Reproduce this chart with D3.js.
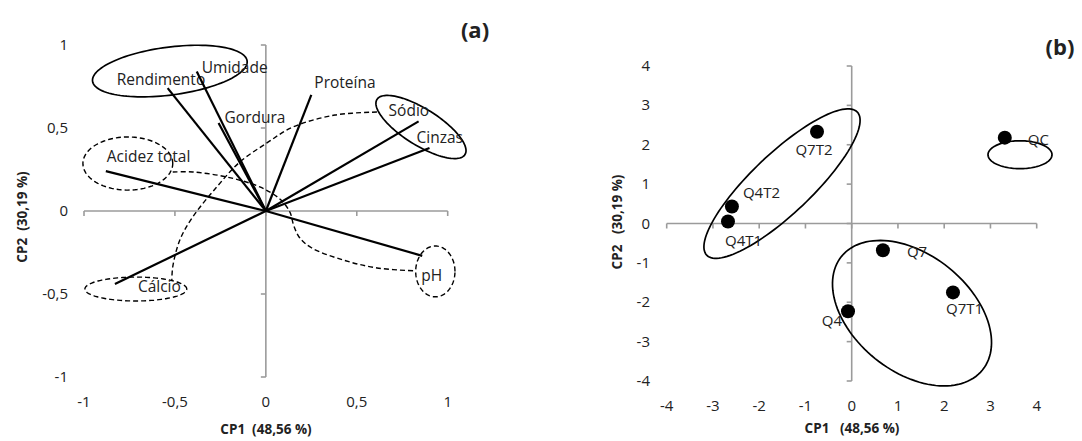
<!DOCTYPE html>
<html><head><meta charset="utf-8">
<script src="https://cdn.jsdelivr.net/npm/d3@7"></script>
<style>
html,body{margin:0;padding:0;background:#fff;}
svg text{font-family:"Open Sans","Noto Sans",sans-serif;fill:#222;}
</style></head>
<body><svg id="chart" width="1082" height="441"></svg>
<script>
// ---------- Panel (a): loadings ----------
const variables = ["Rendimento","Umidade","Gordura","Proteína","Sódio","Cinzas","Acidez total","Cálcio","pH"];
const loadCP1 = [-0.54,-0.38,-0.26,0.25,0.84,0.90,-0.88,-0.83,0.86];
const loadCP2 = [0.74,0.84,0.53,0.70,0.54,0.38,0.24,-0.44,-0.27];
const ticksA = [-1,-0.5,0,0.5,1];
// ellipses: [center, end of semi-axis 1, end of semi-axis 2] in data units
const groupsA_solid = [
  [[-0.528,0.843],[-0.103,0.904],[-0.511,0.700]],
  [[0.853,0.506],[1.095,0.340],[0.800,0.413]]
];
const groupsA_dashed = [
  [[-0.759,0.286],[-0.512,0.286],[-0.759,0.446]],
  [[-0.715,-0.470],[-0.435,-0.470],[-0.715,-0.398]],
  [[0.932,-0.364],[1.040,-0.364],[0.932,-0.211]]
];
const linkSodioCalcio = [[0.611,0.596],[0.380,0.578],[0.149,0.506],[0.006,0.410],[-0.143,0.295],[-0.270,0.145],[-0.402,-0.036],[-0.473,-0.175],[-0.512,-0.337],[-0.517,-0.422]];
const linkAcidezPH = [[-0.512,0.235],[-0.402,0.235],[-0.215,0.205],[-0.033,0.145],[0.077,0.072],[0.132,-0.006],[0.154,-0.090],[0.187,-0.163],[0.253,-0.223],[0.424,-0.295],[0.611,-0.343],[0.825,-0.361]];

// ---------- Panel (b): scores ----------
const samples = ["QC","Q7T2","Q4T2","Q4T1","Q7","Q7T1","Q4"];
const scoreCP1 = [3.31,-0.75,-2.59,-2.675,0.675,2.19,-0.08];
const scoreCP2 = [2.18,2.33,0.43,0.05,-0.68,-1.75,-2.23];
const ticksB = [-4,-3,-2,-1,0,1,2,3,4];
const groupsB = [
  [[1.304,-2.278],[2.827,-3.722],[0.506,-3.430]],
  [[-1.507,1.013],[0.121,2.830],[-1.059,0.463]],
  [[3.639,1.747],[4.331,1.747],[3.639,2.101]]
];

// ---------- layout / styles ----------
const labelOffA = {"Rendimento":[-51,-3],"Umidade":[5,1],"Gordura":[6,0],"Proteína":[3,-7],"Sódio":[-30,-5],"Cinzas":[-13,-5],"Acidez total":[1,-9],"Cálcio":[23,8],"pH":[-1,25]};
const labelOffB = {"QC":[23,7,"start"],"Q7T2":[-3,23,"middle"],"Q4T2":[11,-9,"start"],"Q4T1":[-3,24,"start"],"Q7":[24,7,"start"],"Q7T1":[-7,22,"start"],"Q4":[-6,15,"end"]};
const axisColor = "#9b9b9b";

const svg = d3.select("#chart");
const fmt = v => String(v).replace(".", ",");

function drawAxes(g, x, y, ticks, tickLabX, tickLabYBase) {
  const x0 = x(0), y0 = y(0);
  const t0 = ticks[0], t1 = ticks[ticks.length-1];
  g.append("line").attr("x1", x(t0)).attr("x2", x(t1)).attr("y1", y0).attr("y2", y0)
    .attr("stroke", axisColor).attr("stroke-width", 1.6);
  g.append("line").attr("x1", x0).attr("x2", x0).attr("y1", y(t1)).attr("y2", y(t0))
    .attr("stroke", axisColor).attr("stroke-width", 1.6);
  ticks.forEach(t => {
    g.append("line").attr("x1", x(t)).attr("x2", x(t)).attr("y1", y0).attr("y2", y0+5)
      .attr("stroke", axisColor).attr("stroke-width", 1.6);
    g.append("line").attr("x1", x0-5).attr("x2", x0).attr("y1", y(t)).attr("y2", y(t))
      .attr("stroke", axisColor).attr("stroke-width", 1.6);
    g.append("text").attr("x", x(t)).attr("y", tickLabYBase).attr("text-anchor","middle")
      .attr("font-size", 15).text(fmt(t));
    g.append("text").attr("x", tickLabX).attr("y", y(t)+5).attr("text-anchor","end")
      .attr("font-size", 15).text(fmt(t));
  });
}

function ellipse(g, e, x, y, dashed) {
  const [c,u,v] = e;
  const pts = d3.range(0, 121).map(i => {
    const t = i/120*2*Math.PI;
    return [c[0] + (u[0]-c[0])*Math.cos(t) + (v[0]-c[0])*Math.sin(t),
            c[1] + (u[1]-c[1])*Math.cos(t) + (v[1]-c[1])*Math.sin(t)];
  });
  g.append("path").attr("d", d3.line().x(d=>x(d[0])).y(d=>y(d[1])).curve(d3.curveLinearClosed)(pts))
    .attr("fill","none").attr("stroke","#000").attr("stroke-width", dashed?1.4:1.7)
    .attr("stroke-dasharray", dashed ? "5,3" : null);
}

// ----- panel a -----
const xA = d3.scaleLinear().domain([-1,1]).range([84,447.7]);
const yA = d3.scaleLinear().domain([-1,1]).range([377,45]);
const gA = svg.append("g");
drawAxes(gA, xA, yA, ticksA, 68, 407);

const curve = d3.line().x(d=>xA(d[0])).y(d=>yA(d[1])).curve(d3.curveCatmullRom);
[linkSodioCalcio, linkAcidezPH].forEach(p => gA.append("path").attr("d", curve(p))
  .attr("fill","none").attr("stroke","#000").attr("stroke-width",1.4).attr("stroke-dasharray","5,3"));
groupsA_solid.forEach(e => ellipse(gA, e, xA, yA, false));
groupsA_dashed.forEach(e => ellipse(gA, e, xA, yA, true));

variables.forEach((v,i) => {
  gA.append("line").attr("x1", xA(0)).attr("y1", yA(0))
    .attr("x2", xA(loadCP1[i])).attr("y2", yA(loadCP2[i]))
    .attr("stroke","#000").attr("stroke-width",2.2);
  const o = labelOffA[v];
  gA.append("text").attr("x", xA(loadCP1[i])+o[0]).attr("y", yA(loadCP2[i])+o[1])
    .attr("font-size", 15.5).text(v);
});
gA.append("text").attr("x", 266).attr("y", 434).attr("text-anchor","middle")
  .attr("font-size", 13.5).attr("font-weight","bold").attr("xml:space","preserve").text("CP1  (48,56 %)");
gA.append("text").attr("transform","translate(27,217) rotate(-90)").attr("text-anchor","middle")
  .attr("font-size", 13.5).attr("font-weight","bold").attr("xml:space","preserve").text("CP2  (30,19 %)");
gA.append("text").attr("x", 475).attr("y", 38).attr("text-anchor","middle")
  .attr("font-size", 22).attr("font-weight","bold").text("(a)");

// ----- panel b -----
const xB = d3.scaleLinear().domain([-4,4]).range([666.7,1036.7]);
const yB = d3.scaleLinear().domain([-4,4]).range([381,66]);
const gB = svg.append("g");
drawAxes(gB, xB, yB, ticksB, 650, 411);
groupsB.forEach(e => ellipse(gB, e, xB, yB, false));
samples.forEach((s,i) => {
  gB.append("circle").attr("cx", xB(scoreCP1[i])).attr("cy", yB(scoreCP2[i])).attr("r", 7).attr("fill","#000");
  const o = labelOffB[s];
  gB.append("text").attr("x", xB(scoreCP1[i])+o[0]).attr("y", yB(scoreCP2[i])+o[1])
    .attr("text-anchor", o[2]).attr("font-size", 15).text(s);
});
gB.append("text").attr("x", 852).attr("y", 433).attr("text-anchor","middle")
  .attr("font-size", 13.5).attr("font-weight","bold").attr("xml:space","preserve").text("CP1   (48,56 %)");
gB.append("text").attr("transform","translate(622,222) rotate(-90)").attr("text-anchor","middle")
  .attr("font-size", 13.5).attr("font-weight","bold").attr("xml:space","preserve").text("CP2   (30,19 %)");
gB.append("text").attr("x", 1060).attr("y", 55).attr("text-anchor","middle")
  .attr("font-size", 22).attr("font-weight","bold").text("(b)");
</script></body></html>
